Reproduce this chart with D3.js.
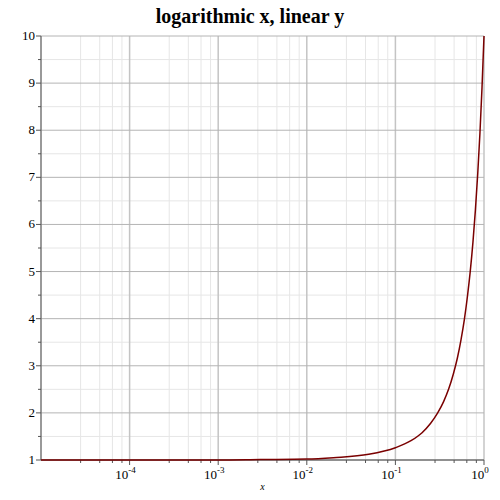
<!DOCTYPE html>
<html><head><meta charset="utf-8">
<script src="https://cdn.jsdelivr.net/npm/d3@7"></script>
<style>body{margin:0;background:#fff} text{font-family:'Liberation Serif','Times New Roman','DejaVu Serif',serif}</style></head>
<body><svg id="c" width="500" height="500"></svg>
<script>
const xVals=[1e-5,1e-4,1e-3,0.003,0.01,0.02,0.05,0.1,0.15,0.2,0.25,0.3,0.35,0.4,0.45,0.5,0.55,0.6,0.65,0.7,0.75,0.8,0.85,0.9,0.95,1];
const yVals=[1,1,1,1.01,1.02,1.05,1.12,1.26,1.41,1.58,1.78,2.0,2.24,2.51,2.82,3.16,3.55,3.98,4.47,5.01,5.62,6.31,7.08,7.94,8.91,10];
const xMajor=[1e-4,1e-3,1e-2,1e-1,1];
const xMajorLabels=["-4","-3","-2","-1","0"];
const yTicks=[1,2,3,4,5,6,7,8,9,10];
const minorMult=[2.8,4.6,6.4,8.2];

const svg=d3.select("#c");
const L=41,R=484,T=36,B=460;
const x=d3.scaleLog().domain([1e-5,1]).range([L,R]);
const y=d3.scaleLinear().domain([1,10]).range([B,T]);
const xMinor=[];
[1e-5,1e-4,1e-3,1e-2,1e-1].forEach(d=>minorMult.forEach(m=>xMinor.push(d*m)));
const yMinor=yTicks.slice(0,-1).map(v=>v+0.5);
const g=svg.append("g");
g.selectAll(".xm").data(xMinor).join("line").attr("x1",d=>x(d)).attr("x2",d=>x(d)).attr("y1",T).attr("y2",B).attr("stroke","#e6e6e6");
g.selectAll(".ym").data(yMinor).join("line").attr("y1",d=>y(d)).attr("y2",d=>y(d)).attr("x1",L).attr("x2",R).attr("stroke","#e6e6e6");
g.selectAll(".xM").data(xMajor).join("line").attr("x1",d=>x(d)).attr("x2",d=>x(d)).attr("y1",T).attr("y2",B).attr("stroke","#c4c4c4").attr("stroke-width",1.5);
g.selectAll(".yM").data(yTicks).join("line").attr("y1",d=>y(d)).attr("y2",d=>y(d)).attr("x1",L).attr("x2",R).attr("stroke","#b4b4b4");
svg.append("line").attr("x1",L).attr("x2",L).attr("y1",T).attr("y2",B).attr("stroke","#777").attr("stroke-width",1.5);
svg.append("line").attr("x1",L).attr("x2",R).attr("y1",B).attr("y2",B).attr("stroke","#777").attr("stroke-width",1.5);
svg.selectAll(".xt").data(xMinor).join("line").attr("x1",d=>x(d)).attr("x2",d=>x(d)).attr("y1",B).attr("y2",B+3).attr("stroke","#555");
svg.selectAll(".xT").data(xMajor).join("line").attr("x1",d=>x(d)).attr("x2",d=>x(d)).attr("y1",B).attr("y2",B+5).attr("stroke","#555");
svg.selectAll(".yt").data(yMinor).join("line").attr("y1",d=>y(d)).attr("y2",d=>y(d)).attr("x1",L-3).attr("x2",L).attr("stroke","#555");
svg.selectAll(".yT").data(yTicks).join("line").attr("y1",d=>y(d)).attr("y2",d=>y(d)).attr("x1",L-5).attr("x2",L).attr("stroke","#555");
svg.selectAll(".yl").data(yTicks).join("text").attr("x",L-6).attr("y",d=>y(d)+4).attr("text-anchor","end")
  .attr("font-size",13).text(d=>d);
const xl=svg.selectAll(".xl").data(xMajor).join("text").attr("x",(d,i)=>x(d)-4).attr("y",B+19).attr("text-anchor","middle")
  .attr("font-size",13);
xl.append("tspan").text("10");
xl.append("tspan").attr("dy",-6).attr("font-size",9).text((d,i)=>xMajorLabels[i]);
svg.append("text").attr("x",(L+R)/2).attr("y",490).attr("text-anchor","middle")
  .attr("font-style","italic").attr("font-size",10).text("x");
svg.append("text").attr("x",250).attr("y",23).attr("text-anchor","middle")
  .attr("font-weight","bold").attr("font-size",20).text("logarithmic x, linear y");
const data=xVals.map((v,i)=>[v,yVals[i]]);
svg.append("path").datum(data).attr("fill","none").attr("stroke","#7a0000").attr("stroke-width",1.5)
  .attr("d",d3.line().x(d=>x(d[0])).y(d=>y(d[1])).curve(d3.curveMonotoneX));
</script></body></html>
